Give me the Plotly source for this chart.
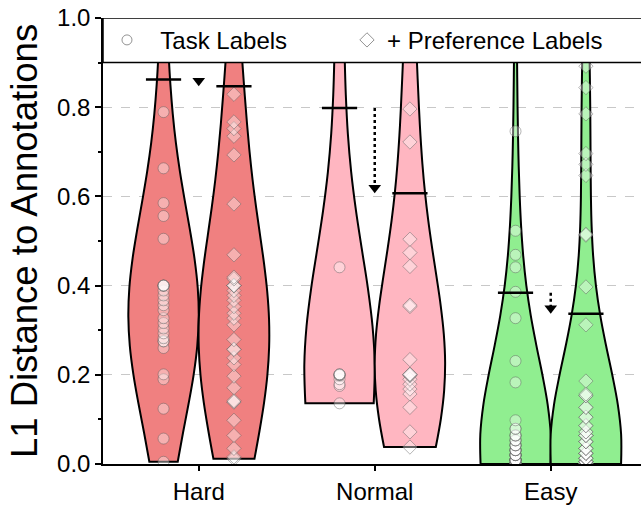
import numpy as np
import plotly.graph_objects as go

categories = ["Hard", "Normal", "Easy"]
colors = ["#F08080", "#FFB6C1", "#90EE90"]

# values; counts = how many markers overlap at that value
task_hard_vals = [0.98, 0.789, 0.663, 0.585, 0.556, 0.505, 0.40, 0.389, 0.378, 0.367, 0.356,
                  0.345, 0.327, 0.316, 0.304, 0.293, 0.282, 0.275, 0.26, 0.201, 0.19, 0.124,
                  0.057, 0.005]
task_hard_counts = [1, 1, 1, 1, 1, 1, 4, 1, 1, 1, 1, 1, 1, 1, 1, 1, 1, 2, 1, 1, 1, 1, 1, 1]
pref_hard_vals = [0.95, 0.829, 0.767, 0.752, 0.735, 0.693, 0.583, 0.469, 0.419, 0.415, 0.40,
                  0.389, 0.378, 0.367, 0.353, 0.338, 0.327, 0.312, 0.279, 0.257, 0.238, 0.223,
                  0.197, 0.171, 0.142, 0.139, 0.098, 0.064, 0.035, 0.016, 0.012]
pref_hard_counts = [1, 1, 1, 1, 1, 1, 1, 1, 1, 1, 3, 1, 1, 1, 1, 1, 1, 1, 1, 2, 1, 1,
                    1, 1, 1, 2, 1, 1, 1, 1, 1]
task_normal_vals = [1.0, 0.441, 0.201, 0.2, 0.198, 0.19, 0.179, 0.175, 0.136]
task_normal_counts = [1, 1, 2, 2, 1, 1, 1, 1, 1]
pref_normal_vals = [0.99, 0.796, 0.722, 0.504, 0.474, 0.443, 0.356, 0.353, 0.234, 0.201, 0.2,
                    0.198, 0.19, 0.179, 0.168, 0.157, 0.127, 0.072, 0.038]
pref_normal_counts = [1, 1, 1, 1, 1, 1, 1, 1, 1, 2, 1, 1, 1, 1, 1, 1, 1, 1, 1]
task_easy_vals = [1.0, 0.746, 0.523, 0.469, 0.441, 0.386, 0.327, 0.231, 0.183, 0.098, 0.079,
                  0.064, 0.053, 0.042, 0.031, 0.02, 0.009, 0.0]
task_easy_counts = [1, 1, 1, 1, 1, 1, 1, 1, 1, 1, 2, 3, 3, 4, 5, 6, 8, 12]
pref_easy_vals = [1.0, 0.95, 0.892, 0.844, 0.785, 0.696, 0.672, 0.647, 0.515, 0.513, 0.397,
                  0.312, 0.186, 0.157, 0.153, 0.127, 0.105, 0.086, 0.072, 0.064, 0.05, 0.035,
                  0.024, 0.013, 0.005, 0.0]
pref_easy_counts = [1, 1, 1, 1, 1, 1, 1, 1, 1, 1, 1, 1, 1, 1, 2, 2, 2, 2, 2, 3, 3, 3, 4, 4,
                    5, 30]

task_line = [0.862, 0.798, 0.384]
pref_line = [0.847, 0.607, 0.337]

task_series = [(task_hard_vals, task_hard_counts), (task_normal_vals, task_normal_counts),
               (task_easy_vals, task_easy_counts)]
pref_series = [(pref_hard_vals, pref_hard_counts), (pref_normal_vals, pref_normal_counts),
               (pref_easy_vals, pref_easy_counts)]

# kde bandwidth per violin (style)
bandwidths = [[0.2, 0.2], [0.27, 0.2], [0.2, 0.2]]

FONT = "Liberation Sans, Arial, sans-serif"
offset = 0.2
vwidth = 0.4

fig = go.Figure()

for i, cat in enumerate(categories):
    for k, ((vals, cnts), side, symbol, size) in enumerate(
            [(task_series[i], -1, "circle", 11), (pref_series[i], 1, "diamond", 11)]):
        v = np.repeat(np.array(vals, dtype=float), cnts)
        pos = i + side * offset
        fig.add_trace(go.Violin(
            x=[pos] * len(v), y=v,
            width=vwidth, scalemode="width", spanmode="hard", bandwidth=bandwidths[i][k],
            fillcolor=colors[i], opacity=1,
            line=dict(color="black", width=2),
            points="all", jitter=0, pointpos=0,
            marker=dict(symbol=symbol, size=size, color="rgba(255,255,255,0.38)",
                        line=dict(color="rgba(90,90,90,0.45)", width=1)),
            showlegend=False, hoverinfo="skip",
        ))

# horizontal reference lines
for i in range(len(categories)):
    for val, side in [(task_line[i], -1), (pref_line[i], 1)]:
        c = i + side * offset
        fig.add_trace(go.Scatter(x=[c - 0.1, c + 0.1], y=[val, val], mode="lines",
                                 line=dict(color="black", width=2.5),
                                 showlegend=False, hoverinfo="skip"))

# dotted arrows
head = 5.5 / 451.0
for i in range(len(categories)):
    yend = pref_line[i] + head
    fig.add_trace(go.Scatter(x=[i, i], y=[task_line[i], yend], mode="lines",
                             line=dict(color="black", width=2.5, dash="dot"),
                             showlegend=False, hoverinfo="skip"))
    fig.add_trace(go.Scatter(x=[i], y=[yend], mode="markers",
                             marker=dict(symbol="triangle-down", size=11, color="black"),
                             showlegend=False, hoverinfo="skip"))

# legend entries
fig.add_trace(go.Scatter(x=[None], y=[None], mode="markers", name="\u00a0\u00a0Task Labels",
                         legend="legend",
                         marker=dict(symbol="circle", size=10, color="white",
                                     line=dict(color="rgba(120,120,120,0.8)", width=1))))
fig.add_trace(go.Scatter(x=[None], y=[None], mode="markers", name="+ Preference Labels",
                         legend="legend2",
                         marker=dict(symbol="diamond", size=11, color="white",
                                     line=dict(color="rgba(120,120,120,0.8)", width=1))))

fig.add_shape(type="rect", xref="x domain", yref="y", x0=0, x1=1.02, y0=0.9, y1=1.0,
              fillcolor="white", line=dict(color="black", width=1.5), layer="above")

legend_common = dict(orientation="h", xanchor="left", y=0.95, yanchor="middle",
                     bgcolor="rgba(0,0,0,0)", borderwidth=0,
                     font=dict(family=FONT, size=24, color="black"), itemsizing="trace")

fig.update_layout(
    width=641, height=505,
    margin=dict(l=103, r=0, t=18, b=36),
    paper_bgcolor="white", plot_bgcolor="white",
    violinmode="overlay",
    font=dict(family=FONT, size=24, color="black"),
    legend=dict(x=0.0074, **legend_common),
    legend2=dict(x=0.4535, **legend_common),
    xaxis=dict(range=[-0.544, 2.513], tickvals=[0, 1, 2], ticktext=categories,
               ticks="outside", ticklen=5, tickwidth=1.5, tickcolor="black",
               showline=True, linecolor="black", linewidth=1.5, mirror=False,
               showgrid=False, zeroline=False,
               tickfont=dict(family=FONT, size=24, color="black")),
    yaxis=dict(range=[0, 1], tickvals=[0, 0.2, 0.4, 0.6, 0.8, 1.0], tickformat=".1f",
               ticks="outside", ticklen=6, tickwidth=1.5, tickcolor="black",
               minor=dict(ticks="outside", ticklen=3, dtick=0.1, tickcolor="black",
                          showgrid=False),
               showline=True, linecolor="black", linewidth=1.5,
               showgrid=True, gridcolor="#c8c8c8", griddash="dash", gridwidth=1,
               zeroline=False,
               tickfont=dict(family=FONT, size=24, color="black"),
               title=dict(text="L1 Distance to Annotations",
                          font=dict(family=FONT, size=36.5, color="black"), standoff=8)),
)

fig.write_html("out.html")
